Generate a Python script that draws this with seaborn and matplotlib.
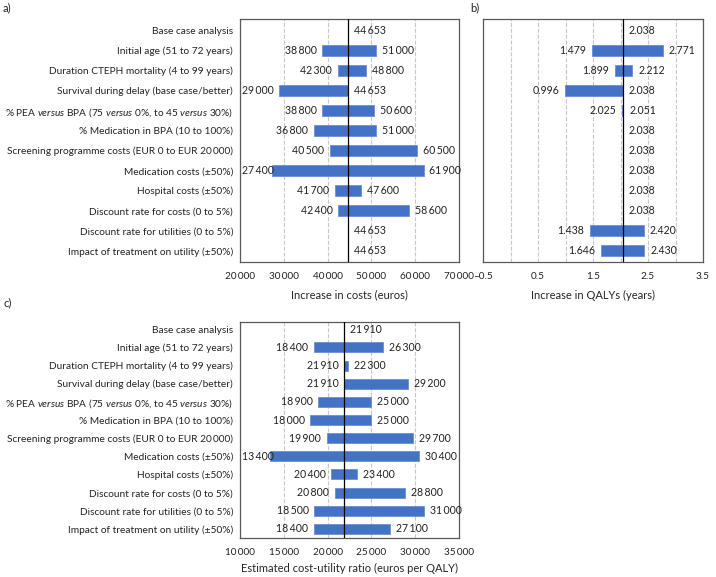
"""Tornado diagrams: one-way sensitivity analysis for CTEPH screening."""

import matplotlib.pyplot as plt
import numpy as np
import seaborn as sns

BAR = "#4472C4"
GRID = "#c8c8c8"
FRAME = "#595959"
FS_ROW = 7.3
FS_VAL = 7.6
FS_TICK = 7.2
FS_LAB = 8.0

PARAMS = [
    "Base case analysis",
    "Initial age (51 to 72 years)",
    "Duration CTEPH mortality (4 to 99 years)",
    "Survival during delay (base case/better)",
    r"% PEA $\mathit{versus}$ BPA (75 $\mathit{versus}$ 0%, to 45 $\mathit{versus}$ 30%)",
    "% Medication in BPA (10 to 100%)",
    "Screening programme costs (EUR 0 to EUR 20\u2009000)",
    "Medication costs (\u00b150%)",
    "Hospital costs (\u00b150%)",
    "Discount rate for costs (0 to 5%)",
    "Discount rate for utilities (0 to 5%)",
    "Impact of treatment on utility (\u00b150%)",
]

COST_BASE = 44653
COST_LOW = [44653, 38800, 42300, 29000, 38800, 36800, 40500, 27400, 41700, 42400, 44653, 44653]
COST_HIGH = [44653, 51000, 48800, 44653, 50600, 51000, 60500, 61900, 47600, 58600, 44653, 44653]

QALY_BASE = 2.038
QALY_LOW = [2.038, 1.479, 1.899, 0.996, 2.025, 2.038, 2.038, 2.038, 2.038, 2.038, 1.438, 1.646]
QALY_HIGH = [2.038, 2.771, 2.212, 2.038, 2.051, 2.038, 2.038, 2.038, 2.038, 2.038, 2.420, 2.430]

CUR_BASE = 21910
CUR_LOW = [21910, 18400, 21910, 21910, 18900, 18000, 19900, 13400, 20400, 20800, 18500, 18400]
CUR_HIGH = [21910, 26300, 22300, 29200, 25000, 25000, 29700, 30400, 23400, 28800, 31000, 27100]

COST_TICKS = [20000, 30000, 40000, 50000, 60000, 70000]
QALY_TICKS = [-0.5, 0.5, 1.5, 2.5, 3.5]
QALY_MINOR = [0, 1, 2, 3]
CUR_TICKS = [10000, 15000, 20000, 25000, 30000, 35000]


def thousands(v):
    return f"{v:,.0f}".replace(",", "\u2009")


def decimals(v):
    return f"{v:.3f}"


def tick_text(t):
    if abs(t) >= 1000:
        return thousands(t)
    return f"{t:g}".replace("-", "\u2013")


def value_label(ax, x, y, text, side):
    # offset in points so the gap to the bar end is the same in every panel
    dx = -4.0 if side == "left" else 4.3
    return ax.annotate(text, (x, y), xytext=(dx, 0), textcoords="offset points",
                       ha="right" if side == "left" else "left", va="center",
                       fontsize=FS_VAL, zorder=4)


def tornado(ax, low, high, base, fmt, ticks, xlabel, ylim, minor=None, labels=True, labelpad=6):
    low = np.asarray(low, dtype=float)
    high = np.asarray(high, dtype=float)
    rows = np.arange(len(low))
    ax.barh(rows, high - low, left=low, height=0.55, color=BAR,
            edgecolor="#6a8fd4", linewidth=0.6, zorder=2)
    ax.axvline(base, color="black", linewidth=0.9, zorder=3)

    left_labels = []
    for r, lo, hi in zip(rows, low, high):
        if lo == hi:
            value_label(ax, base, r, fmt(hi), "right")
            continue
        left_labels.append(value_label(ax, lo, r, fmt(lo), "left"))
        value_label(ax, hi, r, fmt(hi), "right")

    ax.set_xlim(ticks[0], ticks[-1])
    ax.set_xticks(ticks)
    ax.set_xticklabels([tick_text(t) for t in ticks], fontsize=FS_TICK)
    if minor is not None:
        ax.set_xticks(minor, minor=True)
        ax.grid(axis="x", which="minor", linestyle="--", color=GRID, linewidth=0.8, zorder=0)
    ax.grid(axis="x", which="major", linestyle="--", color=GRID, linewidth=0.8, zorder=0)
    ax.set_axisbelow(True)
    ax.set_ylim(*ylim)
    ax.set_yticks(rows)
    if labels:
        ax.set_yticklabels(PARAMS, fontsize=FS_ROW)
    else:
        ax.set_yticklabels([])
    ax.tick_params(axis="y", length=0, pad=5)
    ax.tick_params(axis="x", which="major", length=2.5, width=0.8, color=FRAME, pad=5)
    ax.tick_params(axis="x", which="minor", length=0)
    ax.set_xlabel(xlabel, fontsize=FS_LAB, labelpad=labelpad)
    for s in ax.spines.values():
        s.set_color(FRAME)
        s.set_linewidth(0.9)
    return left_labels


def keep_inside(fig, ax, texts):
    # long low-side labels sit just inside the left frame, as in the original
    renderer = fig.canvas.get_renderer()
    x0 = ax.get_window_extent(renderer).x0
    for t in texts:
        ext = t.get_window_extent(renderer)
        if ext.x0 < x0 + 2:
            shift = (x0 + 2 - ext.x0) * 72 / fig.dpi
            dx, dy = t.xyann
            t.xyann = (dx + shift, dy)


def main():
    sns.set_theme(style="white")
    plt.rcParams["font.family"] = ["Lato", "DejaVu Sans"]
    plt.rcParams["mathtext.fontset"] = "custom"
    plt.rcParams["mathtext.rm"] = "Lato"
    plt.rcParams["mathtext.it"] = "Lato:italic"
    plt.rcParams["text.color"] = "#222222"
    plt.rcParams["xtick.color"] = "#222222"
    plt.rcParams["ytick.color"] = "#222222"

    W, H = 716, 577
    fig = plt.figure(figsize=(W / 100, H / 100), dpi=100)

    def box(x0, y0, x1, y1):
        return [x0 / W, 1 - y1 / H, (x1 - x0) / W, (y1 - y0) / H]

    ax_a = fig.add_axes(box(240, 19, 459, 262))
    ax_b = fig.add_axes(box(483, 19, 703, 262))
    ax_c = fig.add_axes(box(240, 322, 459, 538))

    la = tornado(ax_a, COST_LOW, COST_HIGH, COST_BASE, thousands, COST_TICKS,
                 "Increase in costs (euros)", (11.55, -0.55))
    lb = tornado(ax_b, QALY_LOW, QALY_HIGH, QALY_BASE, decimals, QALY_TICKS,
                 "Increase in QALYs (years)", (11.55, -0.55), minor=QALY_MINOR, labels=False)
    lc = tornado(ax_c, CUR_LOW, CUR_HIGH, CUR_BASE, thousands, CUR_TICKS,
                 "Estimated cost-utility ratio (euros per QALY)", (11.5, -0.4), labelpad=4)

    fig.text(3 / W, 1 - 8 / H, "a)", fontsize=FS_LAB, va="center")
    fig.text(470 / W, 1 - 8 / H, "b)", fontsize=FS_LAB, va="center")
    fig.text(3 / W, 1 - 303 / H, "c)", fontsize=FS_LAB, va="center")

    fig.canvas.draw()
    for ax, texts in ((ax_a, la), (ax_b, lb), (ax_c, lc)):
        keep_inside(fig, ax, texts)

    fig.savefig("out.png", dpi=100, facecolor="white")
    plt.close(fig)


if __name__ == "__main__":
    main()
